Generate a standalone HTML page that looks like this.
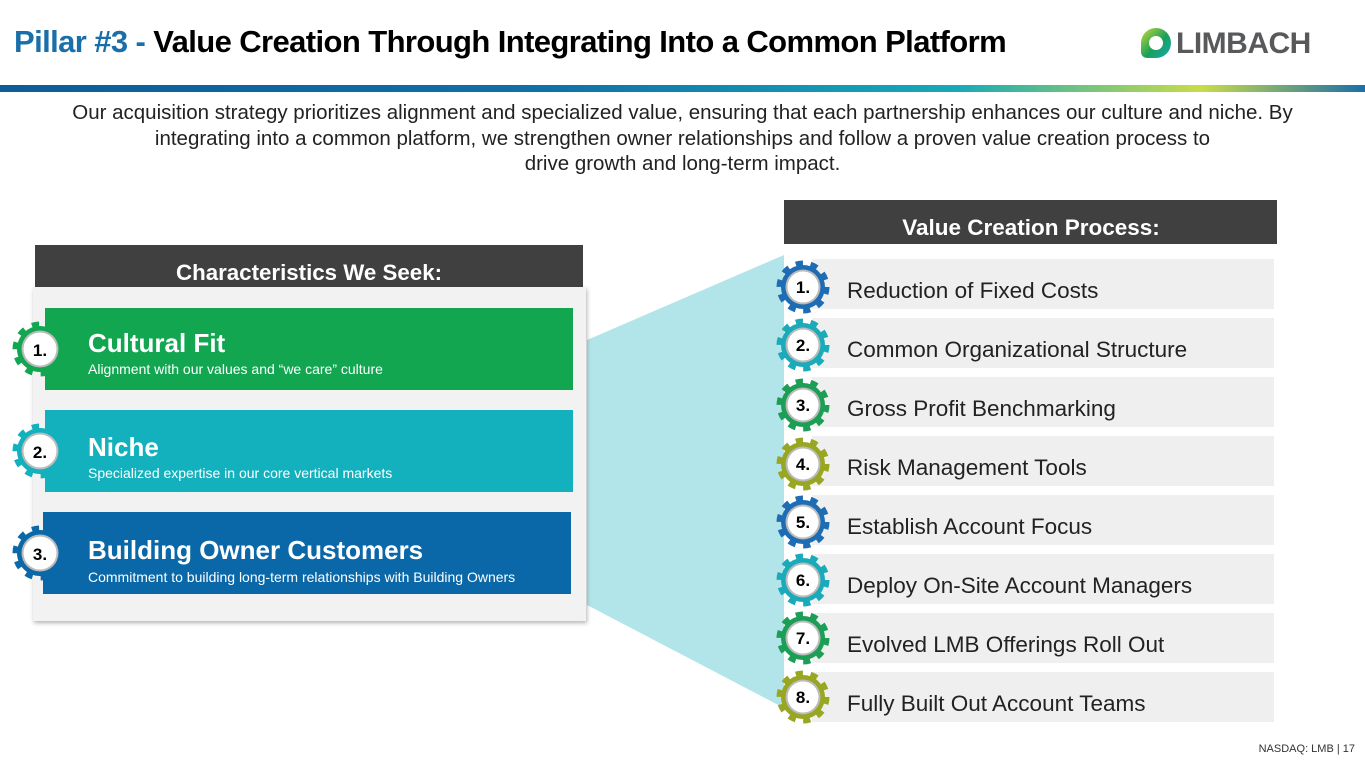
<!DOCTYPE html>
<html><head><meta charset="utf-8"><style>
body{margin:0;width:1365px;height:768px;overflow:hidden;background:#fff;font-family:"Liberation Sans",sans-serif;position:relative}
.a{position:absolute}
</style></head><body>
<div class="a" style="left:14px;top:24px;font-size:31px;font-weight:bold;letter-spacing:-0.6px;white-space:nowrap"><span style="color:#1a6fa8">Pillar #3 - </span><span style="color:#000">Value Creation Through Integrating Into a Common Platform</span></div>
<div class="a" style="left:1141px;top:28px;width:30px;height:30px;border-radius:50% 50% 50% 6px;background:linear-gradient(135deg,#c8d83a,#18a05a 55%,#17a8b8);"></div>
<div class="a" style="left:1149px;top:36px;width:14px;height:14px;border-radius:50%;background:#fff"></div>
<div class="a" style="left:1176px;top:27px;font-size:30px;font-weight:bold;color:#58595b;letter-spacing:-0.5px">LIMBACH</div>
<div class="a" style="left:0;top:85px;width:1365px;height:7px;background:linear-gradient(90deg,#0d5d98,#1070a8 40%,#17a9b8 70%,#c9dc48 88%,#1a6fa8)"></div>
<div class="a" style="left:0;top:100px;width:1365px;text-align:center;font-size:20.5px;line-height:25.5px;color:#222;white-space:nowrap">Our acquisition strategy prioritizes alignment and specialized value, ensuring that each partnership enhances our culture and niche. By<br>integrating into a common platform, we strengthen owner relationships and follow a proven value creation process to<br>drive growth and long-term impact.</div>

<svg class="a" style="left:0;top:0" width="1365" height="768">
<defs>
<filter id="sh" x="-10%" y="-10%" width="120%" height="120%"><feDropShadow dx="1" dy="2" stdDeviation="2" flood-opacity="0.3"/></filter>
</defs>
<polygon points="587,340 784,255 784,708 587,605" fill="#b2e5ea"/>
<rect x="35" y="245" width="548" height="42" fill="#404040"/>
<text x="309" y="280" text-anchor="middle" font-size="22.3" font-weight="bold" fill="#fff">Characteristics We Seek:</text>
<rect x="33" y="287" width="553" height="334" fill="#f2f2f2" filter="url(#sh)"/>
<rect x="45" y="308" width="528" height="82" fill="#12a651"/>
<rect x="45" y="410" width="528" height="82" fill="#12b1bd"/>
<rect x="43" y="512" width="528" height="82" fill="#0a68a8"/>
<g fill="#fff" font-weight="bold">
<text x="88" y="352" font-size="26">Cultural Fit</text>
<text x="88" y="456" font-size="26">Niche</text>
<text x="88" y="559" font-size="26">Building Owner Customers</text>
</g>
<g fill="#fff" font-size="14">
<text x="88" y="374">Alignment with our values and “we care” culture</text>
<text x="88" y="478">Specialized expertise in our core vertical markets</text>
<text x="88" y="582">Commitment to building long-term relationships with Building Owners</text>
</g>
<rect x="784" y="200" width="493" height="44" fill="#404040"/>
<text x="1031" y="235" text-anchor="middle" font-size="22.5" font-weight="bold" fill="#fff">Value Creation Process:</text>
<g fill="#efefef">
<rect x="812" y="259" width="462" height="50"/><rect x="812" y="318" width="462" height="50"/>
<rect x="812" y="377" width="462" height="50"/><rect x="812" y="436" width="462" height="50"/>
<rect x="812" y="495" width="462" height="50"/><rect x="812" y="554" width="462" height="50"/>
<rect x="812" y="613" width="462" height="50"/><rect x="812" y="672" width="462" height="50"/>
</g>
<g font-size="22.5" fill="#222">
<text x="847" y="298">Reduction of Fixed Costs</text>
<text x="847" y="357">Common Organizational Structure</text>
<text x="847" y="416">Gross Profit Benchmarking</text>
<text x="847" y="475">Risk Management Tools</text>
<text x="847" y="534">Establish Account Focus</text>
<text x="847" y="593">Deploy On-Site Account Managers</text>
<text x="847" y="652">Evolved LMB Offerings Roll Out</text>
<text x="847" y="711">Fully Built Out Account Teams</text>
</g>
<g>
<g transform="translate(40,349)"><circle r="24" fill="none" stroke="#12a651" stroke-width="7" stroke-dasharray="7 8"/><circle r="23" fill="#12a651"/><circle r="18.5" fill="#bbb"/><circle r="16.5" fill="#fff"/><text y="7" text-anchor="middle" font-size="17" font-weight="bold">1.</text></g>
<g transform="translate(40,451)"><circle r="24" fill="none" stroke="#12b1bd" stroke-width="7" stroke-dasharray="7 8"/><circle r="23" fill="#12b1bd"/><circle r="18.5" fill="#bbb"/><circle r="16.5" fill="#fff"/><text y="7" text-anchor="middle" font-size="17" font-weight="bold">2.</text></g>
<g transform="translate(40,553)"><circle r="24" fill="none" stroke="#0a68a8" stroke-width="7" stroke-dasharray="7 8"/><circle r="23" fill="#0a68a8"/><circle r="18.5" fill="#bbb"/><circle r="16.5" fill="#fff"/><text y="7" text-anchor="middle" font-size="17" font-weight="bold">3.</text></g>
<g transform="translate(803,287)"><circle r="23" fill="none" stroke="#1e6cb3" stroke-width="7" stroke-dasharray="7 7.45"/><circle r="22" fill="#1e6cb3"/><circle r="17.5" fill="#bbb"/><circle r="15.5" fill="#fff"/><text y="6" text-anchor="middle" font-size="17" font-weight="bold">1.</text></g>
<g transform="translate(803,345)"><circle r="23" fill="none" stroke="#1aaab9" stroke-width="7" stroke-dasharray="7 7.45"/><circle r="22" fill="#1aaab9"/><circle r="17.5" fill="#bbb"/><circle r="15.5" fill="#fff"/><text y="6" text-anchor="middle" font-size="17" font-weight="bold">2.</text></g>
<g transform="translate(803,405)"><circle r="23" fill="none" stroke="#1d9e56" stroke-width="7" stroke-dasharray="7 7.45"/><circle r="22" fill="#1d9e56"/><circle r="17.5" fill="#bbb"/><circle r="15.5" fill="#fff"/><text y="6" text-anchor="middle" font-size="17" font-weight="bold">3.</text></g>
<g transform="translate(803,464)"><circle r="23" fill="none" stroke="#98a622" stroke-width="7" stroke-dasharray="7 7.45"/><circle r="22" fill="#98a622"/><circle r="17.5" fill="#bbb"/><circle r="15.5" fill="#fff"/><text y="6" text-anchor="middle" font-size="17" font-weight="bold">4.</text></g>
<g transform="translate(803,522)"><circle r="23" fill="none" stroke="#1e6cb3" stroke-width="7" stroke-dasharray="7 7.45"/><circle r="22" fill="#1e6cb3"/><circle r="17.5" fill="#bbb"/><circle r="15.5" fill="#fff"/><text y="6" text-anchor="middle" font-size="17" font-weight="bold">5.</text></g>
<g transform="translate(803,580)"><circle r="23" fill="none" stroke="#1aaab9" stroke-width="7" stroke-dasharray="7 7.45"/><circle r="22" fill="#1aaab9"/><circle r="17.5" fill="#bbb"/><circle r="15.5" fill="#fff"/><text y="6" text-anchor="middle" font-size="17" font-weight="bold">6.</text></g>
<g transform="translate(803,638)"><circle r="23" fill="none" stroke="#1d9e56" stroke-width="7" stroke-dasharray="7 7.45"/><circle r="22" fill="#1d9e56"/><circle r="17.5" fill="#bbb"/><circle r="15.5" fill="#fff"/><text y="6" text-anchor="middle" font-size="17" font-weight="bold">7.</text></g>
<g transform="translate(803,697)"><circle r="23" fill="none" stroke="#98a622" stroke-width="7" stroke-dasharray="7 7.45"/><circle r="22" fill="#98a622"/><circle r="17.5" fill="#bbb"/><circle r="15.5" fill="#fff"/><text y="6" text-anchor="middle" font-size="17" font-weight="bold">8.</text></g>
</g>
<text x="1355" y="752" text-anchor="end" font-size="11" fill="#333">NASDAQ: LMB | 17</text>
</svg>
</body></html>
